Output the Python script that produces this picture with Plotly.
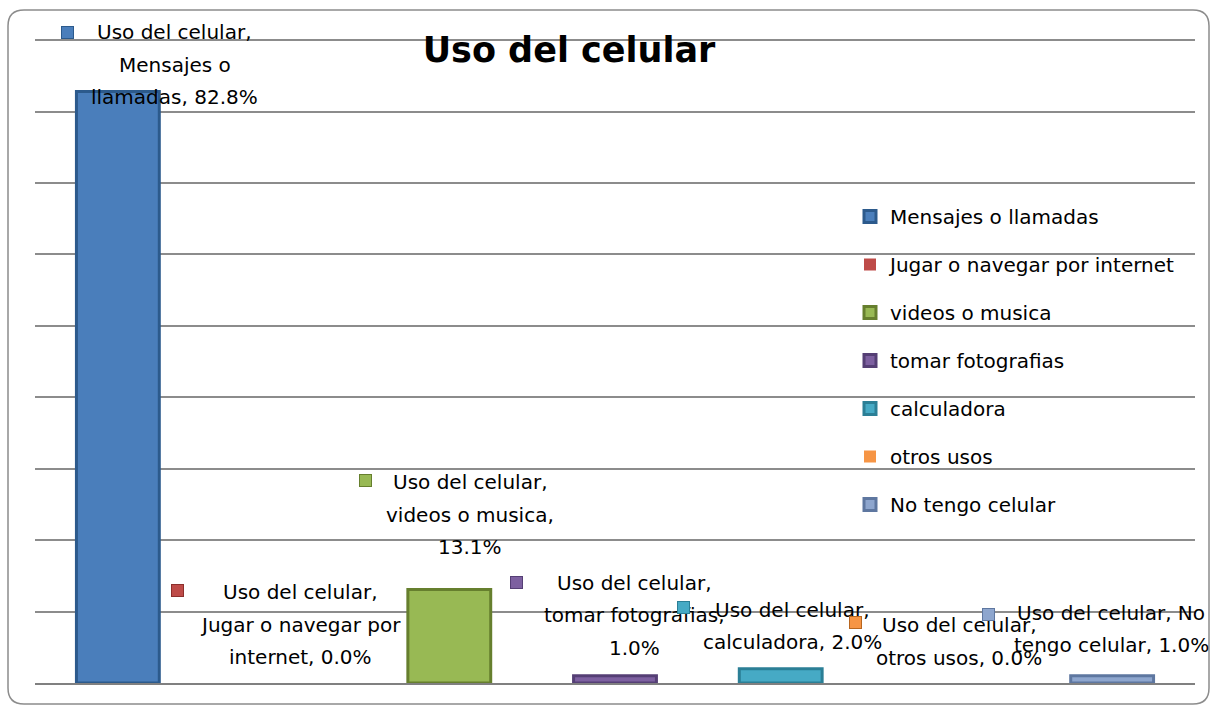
import plotly.graph_objects as go

# ---- data ----
series = ["Mensajes o llamadas", "Jugar o navegar por internet", "videos o musica",
          "tomar fotografias", "calculadora", "otros usos", "No tengo celular"]
values = [82.8, 0.0, 13.1, 1.0, 2.0, 0.0, 1.0]
category = "Uso del celular"
label_lines = [
    ["Uso del celular,", "Mensajes o", "llamadas, 82.8%"],
    ["Uso del celular,", "Jugar o navegar por", "internet, 0.0%"],
    ["Uso del celular,", "videos o musica,", "13.1%"],
    ["Uso del celular,", "tomar fotografias,", "1.0%"],
    ["Uso del celular,", "calculadora, 2.0%"],
    ["Uso del celular,", "otros usos, 0.0%"],
    ["Uso del celular, No", "tengo celular, 1.0%"],
]

# ---- style ----
fills = ["#4A7EBB", "#BE4B48", "#98B954", "#7D60A0", "#46AAC5", "#F69545", "#8EA6CE"]
edges = ["#2C5A8C", "#8C2F2C", "#667F2E", "#553F75", "#2B7F96", "#B8661F", "#5E77A0"]
lab_dx = [57, 17, 21, 19, 12, 13, -1]
lab_dy = [59.5, 91, 107, 93, 59, 58, 63]
mk_dx = [-50, -106, -84, -99, -97, -91, -124]
mk_dy = [59.5, 93, 109, 93, 61, 61, 61]
line_gap = 32.5
FONT = "DejaVu Sans"
FS = 20

fig = go.Figure()
for i, (s, v) in enumerate(zip(series, values)):
    fig.add_trace(go.Bar(
        x=[i], y=[v], name=s, width=0.5, legendgroup=s,
        marker=dict(color=fills[i], line=dict(color=edges[i], width=3 if v > 0 else 0)),
        hovertemplate=f"{category}, {s}, %{{y:.1f}}%<extra></extra>",
    ))

annotations = []
for i, v in enumerate(values):
    for k, line in enumerate(label_lines[i]):
        annotations.append(dict(
            x=i, y=v, xref="x", yref="y", text=line, showarrow=False,
            xanchor="center", yanchor="middle",
            xshift=lab_dx[i], yshift=lab_dy[i] - k * line_gap,
            font=dict(family=FONT, size=FS, color="#000000"),
        ))
    # legend key next to the data label
    annotations.append(dict(
        x=i, y=v, xref="x", yref="y", text="", showarrow=False,
        xanchor="center", yanchor="middle", width=11, height=11,
        xshift=mk_dx[i], yshift=mk_dy[i],
        bgcolor=fills[i], bordercolor=edges[i], borderwidth=1, borderpad=0,
    ))

# plot area in pixels (range slightly above 90 so the 90 gridline is drawn at y=40)
YMAX = 90.3
L, R, B = 35, 1195, 683
T = round(B - 643 * YMAX / 90)
W, H = R - L, B - T
def px(x):
    return (x - L) / W
def py(y):
    return (B - y) / H
x0, x1, y0, y1, r = 8, 1209, 10, 704, 16
path = (f"M {px(x0 + r)},{py(y0)} L {px(x1 - r)},{py(y0)} Q {px(x1)},{py(y0)} {px(x1)},{py(y0 + r)} "
        f"L {px(x1)},{py(y1 - r)} Q {px(x1)},{py(y1)} {px(x1 - r)},{py(y1)} "
        f"L {px(x0 + r)},{py(y1)} Q {px(x0)},{py(y1)} {px(x0)},{py(y1 - r)} "
        f"L {px(x0)},{py(y0 + r)} Q {px(x0)},{py(y0)} {px(x0 + r)},{py(y0)} Z")
shapes = [dict(type="path", xref="paper", yref="paper", path=path,
               line=dict(color="#8C8C8C", width=1.5), layer="below")]

fig.update_layout(
    width=1215, height=706,
    margin=dict(l=L, r=1215 - R, t=T, b=706 - B),
    paper_bgcolor="white", plot_bgcolor="white",
    barmode="overlay",
    title=dict(text="<b>Uso del celular</b>", x=569 / 1215, xanchor="center",
               y=1 - 50 / 706, yanchor="middle",
               font=dict(family=FONT, size=35, color="#000000")),
    xaxis=dict(range=[-0.5, 6.5], showticklabels=False, showgrid=False,
               zeroline=False, showline=True, linecolor="#808080", linewidth=2, ticks=""),
    yaxis=dict(range=[0, YMAX], tick0=0, dtick=10, showticklabels=False, showgrid=True,
               gridcolor="#8C8C8C", gridwidth=1.5, zeroline=False, ticks=""),
    legend=dict(x=px(850), y=py(197), xanchor="left", yanchor="top",
                bgcolor="rgba(0,0,0,0)", font=dict(family=FONT, size=FS, color="#000000"),
                tracegroupgap=19, itemwidth=30, traceorder="grouped"),
    showlegend=True,
    annotations=annotations,
    shapes=shapes,
    font=dict(family=FONT),
)

fig.write_html("out.html", config={"displayModeBar": False},
               post_script="document.body.style.margin='0';")
